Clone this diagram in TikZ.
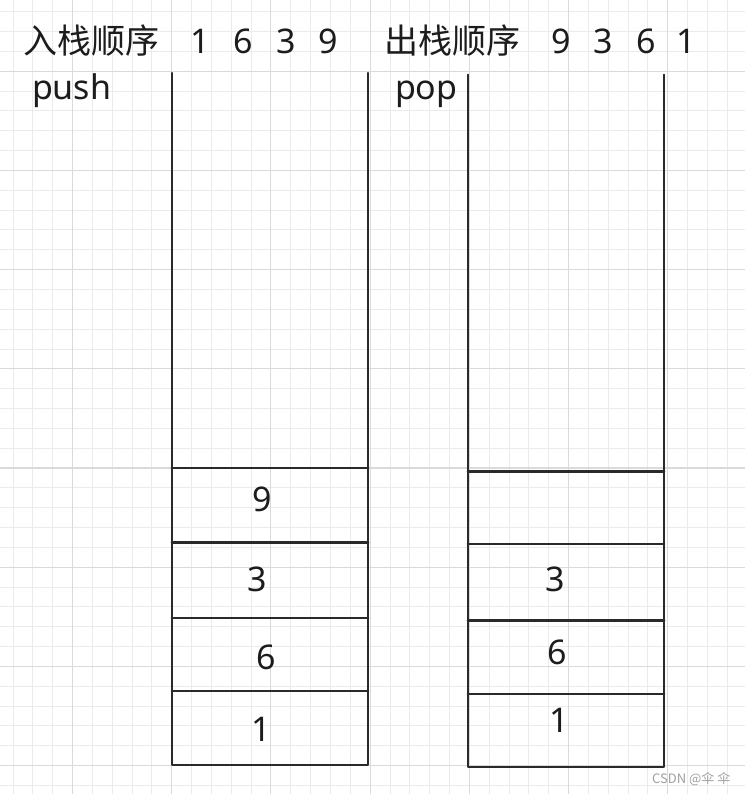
\documentclass[tikz,border=0pt]{standalone}
\usepackage{fontspec}
\setmainfont{Noto Sans}
\newfontfamily\cjk{Noto Sans CJK SC}
\definecolor{gridminor}{HTML}{EBEBEB}
\definecolor{gridmajor}{HTML}{DADADA}
\definecolor{ink}{HTML}{1C1C1C}
\definecolor{wall}{HTML}{2A2A2A}
\definecolor{wm}{HTML}{A0A0A0}
\begin{document}
\begin{tikzpicture}[x=1pt,y=-1pt,
  minor/.style={gridminor, line width=0.9pt},
  major/.style={gridmajor, line width=1.1pt},
  wallline/.style={wall, line width=2.1pt, line cap=round, line join=round},
  big/.style={inner sep=0pt, outer sep=0pt, font=\fontsize{34}{40}\selectfont, text=ink},
  bigcjk/.style={big, font=\cjk\fontsize{34}{40}\selectfont},
  water/.style={inner sep=0pt, font=\cjk\fontsize{13}{15}\selectfont, text=wm}]
\fill[white] (0,0) rectangle (745,794);
\useasboundingbox (0,0) rectangle (745,794);
% grid
\foreach \i in {0,...,37} \draw[minor] ({13.0+19.84*\i},0) -- ({13.0+19.84*\i},794);
\foreach \j in {0,...,39} \draw[minor] (0,{11.7+19.84*\j}) -- (745,{11.7+19.84*\j});
\foreach \i in {0,...,6} \draw[major] ({72.5+99.2*\i},0) -- ({72.5+99.2*\i},794);
\foreach \j in {0,...,7} \draw[major] (0,{71.2+99.2*\j}) -- (745,{71.2+99.2*\j});
% headers
\node[bigcjk, anchor=base west] (t1) at (23,54) {入栈顺序};
\node[big, anchor=base] (p1) at (200,54) {1};
\node[big, anchor=base] (p2) at (243,54) {6};
\node[big, anchor=base] (p3) at (286,54) {3};
\node[big, anchor=base] (p4) at (328,54) {9};
\node[big, anchor=base west] (push) at (32,100) {push};
\node[bigcjk, anchor=base west] (t2) at (384,54) {出栈顺序};
\node[big, anchor=base] (q1) at (561,54) {9};
\node[big, anchor=base] (q2) at (603,54) {3};
\node[big, anchor=base] (q3) at (646,54) {6};
\node[big, anchor=base] (q4) at (686,54) {1};
\node[big, anchor=base west] (pop) at (395,100) {pop};
% stack A (push)
\coordinate (Atl) at (171.7,73);
\coordinate (Atr) at (368.3,73);
\coordinate (Abl) at (171.7,765);
\coordinate (Abr) at (368.3,765);
\draw[wallline] (Atl) -- (Abl) -- (Abr) -- (Atr);
\foreach \y in {468,542.5,618,690.7} \draw[wallline] (171.7,\y) -- (368.3,\y);
\node[big, anchor=base] (a9) at (262,511.5) {9};
\node[big, anchor=base] (a3) at (257.7,591.5) {3};
\node[big, anchor=base] (a6) at (266.7,669) {6};
\node[big, anchor=base] (a1) at (261.7,741.5) {1};
% stack B (pop)
\coordinate (Btl) at (467.7,74.7);
\coordinate (Btr) at (664.3,74.7);
\coordinate (Bbl) at (467.7,766.7);
\coordinate (Bbr) at (664.3,766.7);
\draw[wallline] (Btl) -- (Bbl) -- (Bbr) -- (Btr);
\foreach \y in {471.5,544,620.5,694.3} \draw[wallline] (467.7,\y) -- (664.3,\y);
\node[big, anchor=base] (b3) at (555,591.5) {3};
\node[big, anchor=base] (b6) at (557,664) {6};
\node[big, anchor=base] (b1) at (559,732.7) {1};
% watermark
\node[water, anchor=base west] (wmk) at (652,783) {CSDN @伞 伞};
\end{tikzpicture}
\end{document}
